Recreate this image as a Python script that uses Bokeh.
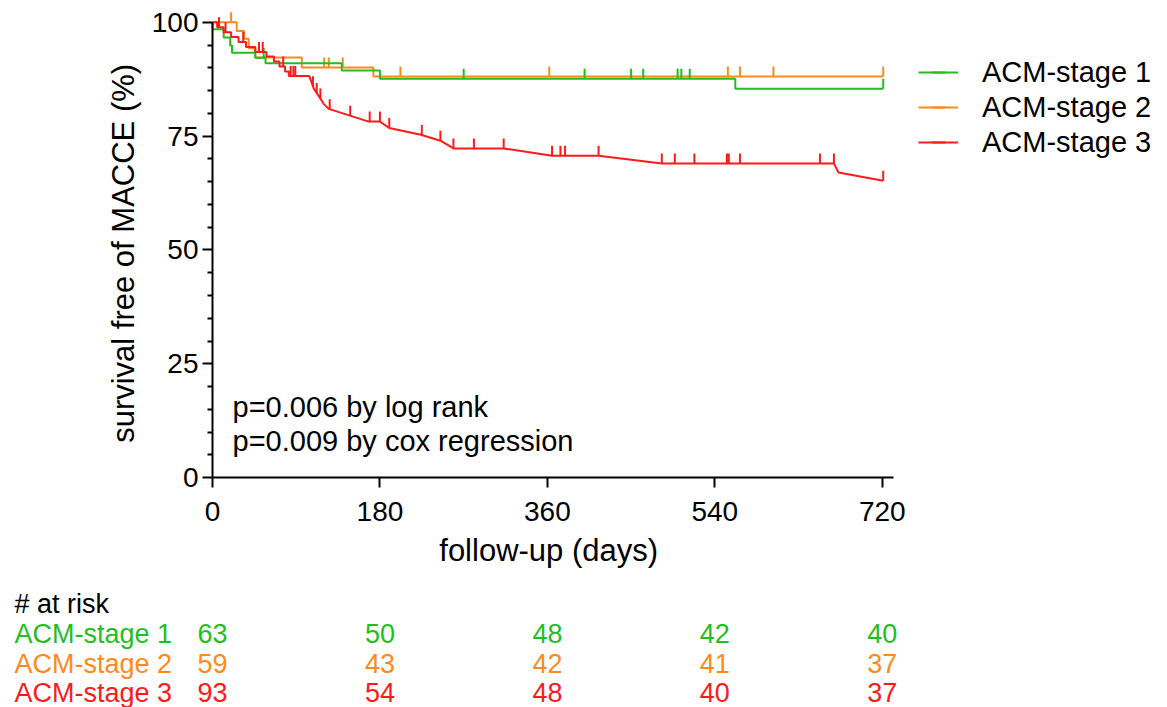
import numpy as np
from bokeh.plotting import figure
from bokeh.models import (Range1d, FixedTicker, Legend, LegendItem, Label, LabelSet,
                          ColumnDataSource)
from bokeh.core.properties import value
from bokeh.embed import file_html
from bokeh.resources import INLINE

# ---------------- data ----------------
# ACM-stage 1 (step function: time of event, survival after event)
g_time = [0, 0, 12, 19, 21, 46, 57, 139, 180, 562, 721]
g_surv = [100, 98.5, 96.7, 94.9, 93.3, 92.2, 91.0, 89.4, 87.6, 85.4, 85.4]
g_cens = [55, 270, 400, 450, 463, 500, 504, 513, 721]

# ACM-stage 2
o_time = [0, 26, 34, 39, 46, 96, 173, 721]
o_surv = [100, 98.1, 96.4, 94.3, 92.3, 90.1, 88.1, 88.1]
o_cens = [20, 120, 125, 140, 202, 362, 554, 567, 603, 721]

# ACM-stage 3 (curve vertices)
r_time = [0, 5, 5, 12, 12, 20, 20, 28, 28, 36, 36, 46, 46, 58, 58, 66, 66, 72, 72,
          78, 78, 82, 82, 104, 106, 109, 114, 119.5, 125, 168, 180, 190, 224, 245,
          259, 313, 365, 415, 483, 668, 673, 721]
r_surv = [100, 100, 98.9, 98.9, 97.8, 97.8, 96.8, 96.8, 95.7, 95.7, 94.6, 94.6, 93.5,
          93.5, 92.5, 92.5, 91.4, 91.4, 90.3, 90.3, 89.2, 89.2, 88.2, 88.2, 87.1, 85.4,
          83.9, 82.1, 81.0, 78.2, 78.2, 76.8, 75.3, 74.0, 72.3, 72.3, 70.7, 70.7, 69.0,
          69.0, 67.0, 65.2]
r_cens = [7, 14, 33, 50, 54, 76, 84, 87, 89, 108, 112, 116, 126, 148, 169, 180, 190,
          225, 245, 259, 281, 313, 365, 374, 379, 415, 483, 497, 518, 553, 555, 567,
          653, 668, 721]

groups = ["ACM-stage 1", "ACM-stage 2", "ACM-stage 3"]
x_ticks = [0, 180, 360, 540, 720]
y_ticks = [0, 25, 50, 75, 100]
y_minor = [5, 10, 15, 20, 30, 35, 40, 45, 55, 60, 65, 70, 80, 85, 90, 95]
x_title = "follow-up  (days)"
y_title = "survival free of MACCE  (%)"
risk_header = "# at risk"
risk_g = [63, 50, 48, 42, 40]
risk_o = [59, 43, 42, 41, 37]
risk_r = [93, 54, 48, 40, 37]
pval_lines = ["p=0.006 by log rank", "p=0.009 by cox regression"]

GREEN = "#1fbf1f"
ORANGE = "#ff8a1c"
RED = "#ff1a1a"
FONT = "Liberation Sans"
TICK_HALF = 1.1  # half length of censor tick in % units (style)

# text placement (axis units) for texts lying outside the axes box
RISK_LABEL_X = -212.8
RISK_HEADER_Y = -27.7
RISK_ROW_Y = [-34.3, -40.9, -47.3]


def step_at(t, s, c):
    idx = np.searchsorted(np.asarray(t, float), np.asarray(c, float), side="right") - 1
    return np.asarray(s, float)[idx]


# ---------------- figure: frame spans the whole canvas ----------------
p = figure(width=1167, height=707,
           x_range=Range1d(-227.9, 1026.6), y_range=Range1d(-50.5, 104.8),
           output_backend="svg", toolbar_location=None,
           min_border_left=0, min_border_right=0,
           min_border_top=0, min_border_bottom=0)
p.outline_line_color = None
p.xgrid.visible = False
p.ygrid.visible = False
p.background_fill_color = "white"

o_line = p.step(o_time, o_surv, mode="after", line_color=ORANGE, line_width=2)
o_tk = p.scatter(o_cens, step_at(o_time, o_surv, o_cens) + TICK_HALF, marker="dash",
                 angle=np.pi / 2, size=10, line_color=ORANGE, line_width=2)
g_line = p.step(g_time, g_surv, mode="after", line_color=GREEN, line_width=2)
g_tk = p.scatter(g_cens, step_at(g_time, g_surv, g_cens) + TICK_HALF, marker="dash",
                 angle=np.pi / 2, size=10, line_color=GREEN, line_width=2)
r_line = p.line(r_time, r_surv, line_color=RED, line_width=2)
r_tk = p.scatter(r_cens, np.interp(r_cens, r_time, r_surv) + TICK_HALF, marker="dash",
                 angle=np.pi / 2, size=10, line_color=RED, line_width=2)

for ax in (p.xaxis[0], p.yaxis[0]):
    ax.fixed_location = 0
    ax.axis_line_width = 2
    ax.axis_line_color = "black"
    ax.major_tick_line_width = 2
    ax.major_tick_line_color = "black"
    ax.major_tick_out = 10
    ax.major_tick_in = 0
    ax.major_label_text_font = FONT
    ax.major_label_text_font_size = "28px"
    ax.major_label_text_color = "black"

p.xaxis.ticker = FixedTicker(ticks=x_ticks)
p.xaxis.minor_tick_line_color = None
p.xaxis.bounds = (0, 732)
p.xaxis.major_label_standoff = 14

p.yaxis.ticker = FixedTicker(ticks=y_ticks, minor_ticks=y_minor)
p.yaxis.minor_tick_line_width = 2
p.yaxis.minor_tick_line_color = "black"
p.yaxis.minor_tick_out = 5
p.yaxis.minor_tick_in = 0
p.yaxis.bounds = (0, 100)
p.yaxis.major_label_standoff = 4

# axis titles
p.add_layout(Label(x=366, y=-16.0, text=x_title, text_font=FONT, text_font_size="31px",
                   text_align="center", text_baseline="middle", text_color="black"))
p.add_layout(Label(x=-95.7, y=50.2, text=y_title, text_font=FONT, text_font_size="31px",
                   text_align="center", text_baseline="middle", angle=np.pi / 2,
                   text_color="black"))

legend = Legend(items=[LegendItem(label=groups[0], renderers=[g_line, g_tk]),
                       LegendItem(label=groups[1], renderers=[o_line, o_tk]),
                       LegendItem(label=groups[2], renderers=[r_line, r_tk])],
                location=(918, 548), padding=0, margin=0, spacing=1,
                glyph_width=40, glyph_height=34, label_height=34, label_standoff=24,
                border_line_color=None, background_fill_alpha=0,
                label_text_font=FONT, label_text_font_size="29px",
                label_text_color="black")
p.add_layout(legend)

for txt, yv in zip(pval_lines, [15.5, 8.1]):
    p.add_layout(Label(x=21.5, y=yv, text=txt, text_font=FONT, text_font_size="29px",
                       text_baseline="middle", text_align="left", text_color="black"))

# ---------------- at-risk table ----------------
p.add_layout(Label(x=RISK_LABEL_X, y=RISK_HEADER_Y, text=risk_header, text_font=FONT,
                   text_font_size="27px", text_baseline="middle", text_align="left",
                   text_color="black"))
for name, vals, col, yv in zip(groups, [risk_g, risk_o, risk_r], [GREEN, ORANGE, RED],
                               RISK_ROW_Y):
    p.add_layout(Label(x=RISK_LABEL_X, y=yv, text=name, text_font=FONT,
                       text_font_size="27px", text_baseline="middle", text_align="left",
                       text_color=col))
    src = ColumnDataSource(dict(x=x_ticks, y=[yv] * len(vals),
                                t=[str(v) for v in vals]))
    p.add_layout(LabelSet(x="x", y="y", text="t", source=src, text_font=value(FONT),
                          text_font_size="27px", text_baseline="middle",
                          text_align="center", text_color=col))

open("out.html", "w").write(file_html(p, INLINE))
